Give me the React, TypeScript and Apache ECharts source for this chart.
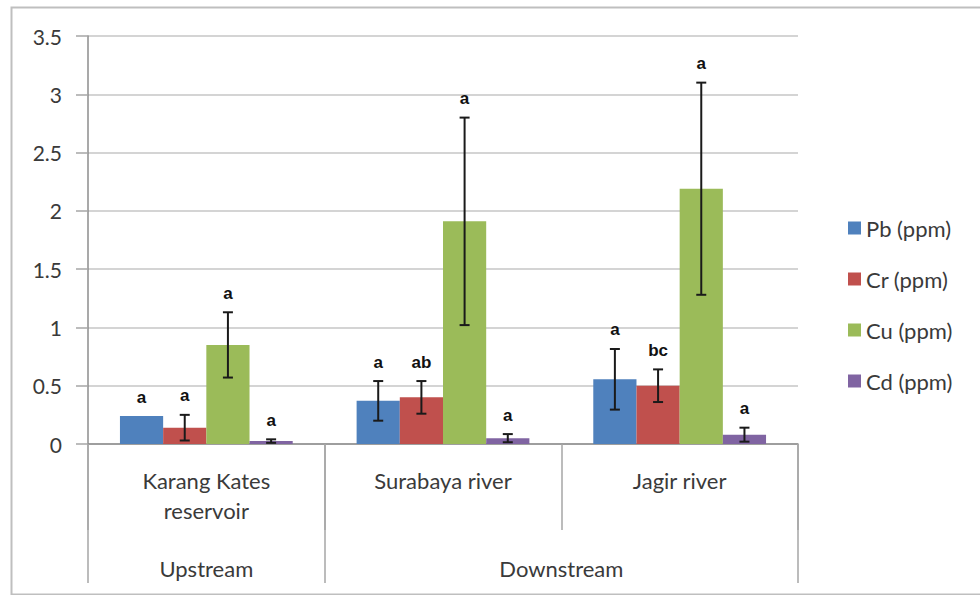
import React, { useEffect, useRef } from 'react';
import * as echarts from 'echarts';

const sites = ['Karang Kates\nreservoir', 'Surabaya river', 'Jagir river'];
const zones = ['Upstream', 'Downstream'];
const zoneBounds = [0, 1, 3];
const seriesNames = ['Pb (ppm)', 'Cr (ppm)', 'Cu (ppm)', 'Cd (ppm)'];
const colors = ['#4F81BD', '#C0504D', '#9BBB59', '#8064A2'];
const yTicks = [0, 0.5, 1, 1.5, 2, 2.5, 3, 3.5];

const pbMean = [0.24, 0.37, 0.555];
const pbErr = [0, 0.17, 0.26];
const crMean = [0.14, 0.4, 0.5];
const crErr = [0.11, 0.14, 0.14];
const cuMean = [0.85, 1.91, 2.19];
const cuErr = [0.28, 0.89, 0.91];
const cdMean = [0.025, 0.05, 0.08];
const cdErr = [0.015, 0.035, 0.06];

const pbLetters = ['a', 'a', 'a'];
const crLetters = ['a', 'ab', 'bc'];
const cuLetters = ['a', 'a', 'a'];
const cdLetters = ['a', 'a', 'a'];

const means = [pbMean, crMean, cuMean, cdMean];
const errs = [pbErr, crErr, cuErr, cdErr];
const letters = [pbLetters, crLetters, cuLetters, cdLetters];

const GAP = 0.27;

export default function App() {
  const ref = useRef<HTMLDivElement>(null);
  useEffect(() => {
    if (!ref.current) return;
    const chart = echarts.init(ref.current, null, { renderer: 'svg' });
    const font = 'Lato, "Open Sans", sans-serif';
    const textColor = '#3a3a3a';
    const zoneMids = zones.map((_, i) => (zoneBounds[i] + zoneBounds[i + 1]) / 2);

    const errData: number[][] = [];
    const errLetters: string[] = [];
    for (let k = 0; k < 4; k++) {
      for (let c = 0; c < sites.length; c++) {
        errData.push([c, means[k][c], errs[k][c], k]);
        errLetters.push(letters[k][c]);
      }
    }

    const barSeries = seriesNames.map((name, k) => ({
      name,
      type: 'bar',
      data: means[k],
      barGap: '0%',
      barCategoryGap: GAP * 100 + '%',
      itemStyle: { color: colors[k] },
      z: 2,
    }));

    const option: any = {
      animation: false,
      backgroundColor: '#ffffff',
      textStyle: { fontFamily: font },
      grid: { left: 88, right: 182, top: 36, bottom: 151, containLabel: false },
      legend: {
        orient: 'vertical',
        left: 843,
        top: 212,
        itemWidth: 13,
        itemHeight: 13,
        itemGap: 29,
        icon: 'rect',
        data: seriesNames,
        textStyle: { fontSize: 22, color: textColor, fontFamily: font, lineHeight: 20 },
      },
      xAxis: [
        {
          type: 'category',
          data: sites,
          axisLine: { show: true, lineStyle: { color: '#8c8c8c', width: 1.5 } },
          axisTick: { show: true, alignWithLabel: false, interval: 0, length: 86, lineStyle: { color: '#a6a6a6', width: 1.5 } },
          axisLabel: { fontSize: 22, lineHeight: 30, color: textColor, margin: 21, fontFamily: font, interval: 0, verticalAlign: 'top' },
          splitLine: { show: false },
        },
        {
          type: 'value',
          min: zoneBounds[0],
          max: zoneBounds[zoneBounds.length - 1],
          position: 'bottom',
          axisLine: { show: false },
          splitLine: { show: false },
          axisTick: { show: true, customValues: zoneBounds, length: 139, lineStyle: { color: '#a6a6a6', width: 1.5 } },
          axisLabel: {
            customValues: zoneMids,
            formatter: (v: number) => {
              const i = zoneMids.findIndex((m) => Math.abs(m - v) < 1e-6);
              return i >= 0 ? zones[i] : '';
            },
            fontSize: 22,
            lineHeight: 30,
            color: textColor,
            margin: 109,
            fontFamily: font,
            verticalAlign: 'top',
          },
        },
      ],
      yAxis: {
        type: 'value',
        min: yTicks[0],
        max: yTicks[yTicks.length - 1],
        interval: 0.5,
        axisLine: { show: true, lineStyle: { color: '#8c8c8c', width: 1.5 } },
        axisTick: { show: true, length: 12, lineStyle: { color: '#a6a6a6', width: 1.5 } },
        axisLabel: { fontSize: 21, color: textColor, margin: 26, fontFamily: font },
        splitLine: { show: true, lineStyle: { color: '#d4d4d4', width: 2 } },
      },
      graphic: [
        {
          type: 'rect',
          left: 9,
          top: 5,
          shape: { width: 985, height: 587 },
          style: { fill: 'none', stroke: '#bfbfbf', lineWidth: 2 },
          silent: true,
          z: 0,
        },
      ],
      series: [
        ...barSeries,
        {
          type: 'custom',
          name: 'errors',
          xAxisIndex: 0,
          yAxisIndex: 0,
          z: 5,
          clip: false,
          encode: { x: 0, y: 1 },
          data: errData,
          renderItem: (params: any, api: any) => {
            const c = api.value(0);
            const mean = api.value(1);
            const err = api.value(2);
            const k = api.value(3);
            const band = api.size([1, 0])[0];
            const barsW = band * (1 - GAP);
            const barW = barsW / 4;
            const center = api.coord([c, mean]);
            const x = center[0] - barsW / 2 + (k + 0.5) * barW;
            const yTop = api.coord([c, mean + err])[1];
            const yBot = api.coord([c, Math.max(mean - err, 0)])[1];
            const children: any[] = [];
            const ls = { stroke: '#1a1a1a', lineWidth: 2 };
            if (err > 0) {
              children.push({ type: 'line', shape: { x1: x, y1: yTop, x2: x, y2: yBot }, style: ls });
              children.push({ type: 'line', shape: { x1: x - 5, y1: yTop, x2: x + 5, y2: yTop }, style: ls });
              children.push({ type: 'line', shape: { x1: x - 5, y1: yBot, x2: x + 5, y2: yBot }, style: ls });
            }
            children.push({
              type: 'text',
              style: {
                text: errLetters[params.dataIndex],
                x,
                y: yTop - 19,
                align: 'center',
                verticalAlign: 'middle',
                fontSize: 17,
                fontWeight: 'bold',
                fontFamily: '"Liberation Sans", Arial, sans-serif',
                fill: '#111111',
              },
            });
            return { type: 'group', children };
          },
        },
      ],
    };
    chart.setOption(option);
    return () => chart.dispose();
  }, []);
  return (
    <div
      ref={ref}
      style={{ position: 'fixed', left: 0, top: 0, width: 980, height: 595, background: '#fff' }}
    />
  );
}
